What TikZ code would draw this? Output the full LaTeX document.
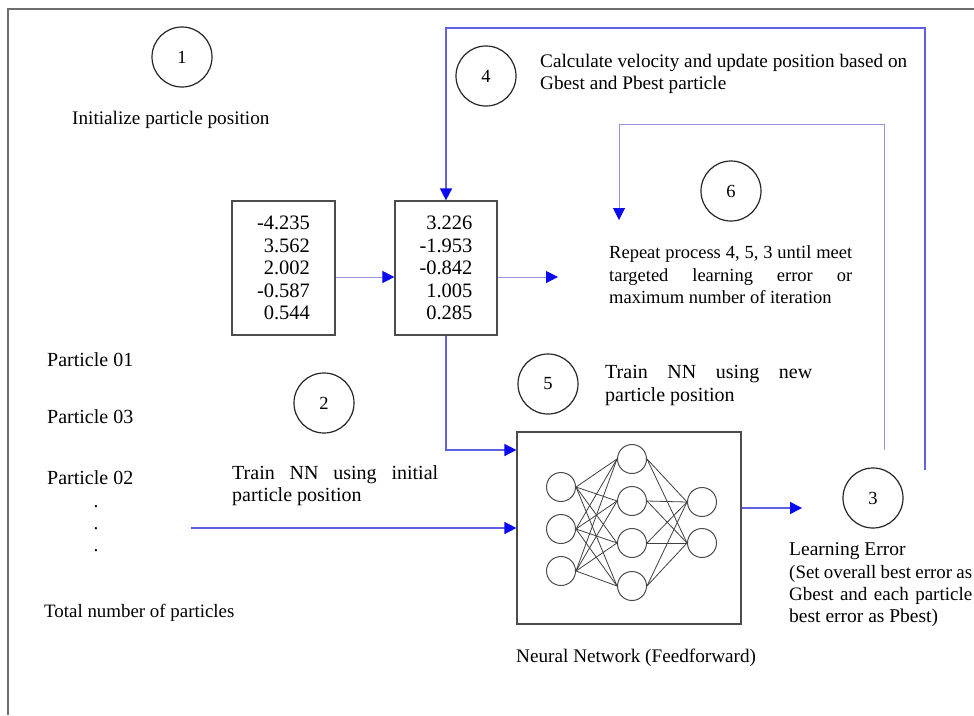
\documentclass[tikz,border=0pt]{standalone}
\usepackage{fontspec}
\setmainfont{Liberation Serif}
\usetikzlibrary{arrows.meta}
\definecolor{frame}{RGB}{110,110,110}
\definecolor{lineblue}{RGB}{95,95,225}
\definecolor{lightblue}{RGB}{150,150,228}
\definecolor{tipblue}{RGB}{10,10,240}
\newcommand{\fs}[1]{\fontsize{#1}{22.5}\selectfont}
\begin{document}
\begin{tikzpicture}[x=1pt,y=-1pt,
  txt/.style={inner sep=0pt, anchor=base west, font=\fs{19.2}},
  numc/.style={circle, draw=black!85, line width=1.2pt, minimum size=60pt, inner sep=0pt, font=\fs{18.5}},
  vbox/.style={draw=black!70, line width=1.2pt, inner sep=0pt},
  neur/.style={circle, draw=black!70, line width=1pt, minimum size=29pt, inner sep=0pt},
  link/.style={draw=black!75, line width=0.8pt},
  arr/.style={-{Triangle[length=12pt,width=12pt,color=tipblue]}},
  bl/.style={draw=lineblue, line width=1.5pt},
  lbl/.style={draw=lightblue, line width=1pt}]
\useasboundingbox (0,0) rectangle (974,715);
\fill[white] (0,0) rectangle (974,715);
% frame
\draw[frame, line width=2pt] (8,715) -- (8,9) -- (974,9);

% step circles
\node[numc] (c1) at (182,57) {1};
\node[numc] (c4) at (486,76) {4};
\node[numc] (c6) at (731,191) {6};
\node[numc] (c2) at (324,403) {2};
\node[numc] (c5) at (548,384) {5};
\node[numc] (c3) at (873,498) {3};

% texts
\node[txt] (t1) at (72,124) {Initialize particle position};
\node[txt] (t4a) at (540,67) {\makebox[367pt][s]{Calculate velocity and update position based on}};
\node[txt] (t4b) at (540,89) {Gbest and Pbest particle};
\node[txt, font=\fs{18.5}] (t6a) at (609,258) {\makebox[243pt][s]{Repeat process 4, 5, 3 until meet}};
\node[txt, font=\fs{18.5}] (t6b) at (609,281) {\makebox[243pt][s]{targeted learning error or}};
\node[txt, font=\fs{18.5}] (t6c) at (609,303) {maximum number of iteration};
\node[txt, font=\fs{20}] (p1) at (47,366) {Particle 01};
\node[txt, font=\fs{20}] (p3) at (47,423) {Particle 03};
\node[txt, font=\fs{20}] (p2) at (47,484) {Particle 02};
\node[txt, anchor=base] (d1) at (96,507) {.};
\node[txt, anchor=base] (d2) at (96,529) {.};
\node[txt, anchor=base] (d3) at (96,551) {.};
\node[txt, font=\fs{18.9}] (tot) at (44,617) {Total number of particles};
\node[txt, font=\fs{20}] (t2a) at (232,479) {\makebox[206pt][s]{Train NN using initial}};
\node[txt, font=\fs{20}] (t2b) at (232,501) {particle position};
\node[txt, font=\fs{20}] (t5a) at (605,378) {\makebox[207pt][s]{Train NN using new}};
\node[txt, font=\fs{20}] (t5b) at (605,401) {particle position};
\node[txt, font=\fs{19.5}] (t3a) at (789,555) {Learning Error};
\node[txt, font=\fs{18.9}] (t3b) at (789,578) {\makebox[183pt][s]{(Set overall best error as}};
\node[txt, font=\fs{19}] (t3c) at (789,600) {\makebox[183pt][s]{Gbest and each particle}};
\node[txt, font=\fs{19.5}] (t3d) at (789,622) {best error as Pbest)};
\node[txt] (nnc) at (516,662) {Neural Network (Feedforward)};

% value boxes
\node[vbox, minimum width=103pt, minimum height=134pt, align=right,
      font=\fs{20.5}] (A) at (283.5,268)
      {-4.235\\3.562\\2.002\\-0.587\\0.544};
\node[vbox, minimum width=102pt, minimum height=134pt, align=right,
      font=\fs{20.5}] (B) at (446,268)
      {3.226\\-1.953\\-0.842\\1.005\\0.285};

% neural network box
\node[vbox, minimum width=224pt, minimum height=192pt] (NN) at (629,528) {};
\node[neur] (i1) at (561,487) {};
\node[neur] (i2) at (561,529) {};
\node[neur] (i3) at (561,571) {};
\node[neur] (h1) at (632,459) {};
\node[neur] (h2) at (632,501) {};
\node[neur] (h3) at (632,543) {};
\node[neur] (h4) at (632,586) {};
\node[neur] (o1) at (702,502) {};
\node[neur] (o2) at (702,543) {};
\foreach \i in {i1,i2,i3}
  \foreach \h in {h1,h2,h3,h4}
    \draw[link] (\i.east) -- (\h.west);
\foreach \h in {h1,h2,h3,h4}
  \foreach \o in {o1,o2}
    \draw[link] (\h.east) -- (\o.west);

% connector coordinates
\coordinate (yab) at (0,277);
\coordinate (outB) at (558,277);
\coordinate (loopR) at (925,470);
\coordinate (loopTop) at (925,28);
\coordinate (sixR) at (884,450);
\coordinate (sixTop) at (884,124);
\coordinate (sixEnd) at (619,220);
\coordinate (yin1) at (0,450);
\coordinate (start2) at (191,528);
\coordinate (errIn) at (802,508);

% connectors
\draw[lbl, arr] (A.east |- yab) -- (B.west |- yab);
\draw[lbl, arr] (B.east |- yab) -- (outB);
\draw[bl, arr] (loopR) -- (loopTop) -- (B.north |- loopTop) -- (B.north);
\draw[lbl, arr] (sixR) -- (sixTop) -- (sixEnd |- sixTop) -- (sixEnd);
\draw[bl, arr] (B.south) -- (B.south |- yin1) -- (NN.west |- yin1);
\draw[bl, arr] (start2) -- (NN.west);
\draw[bl, arr] (NN.east |- errIn) -- (errIn);
\end{tikzpicture}
\end{document}
